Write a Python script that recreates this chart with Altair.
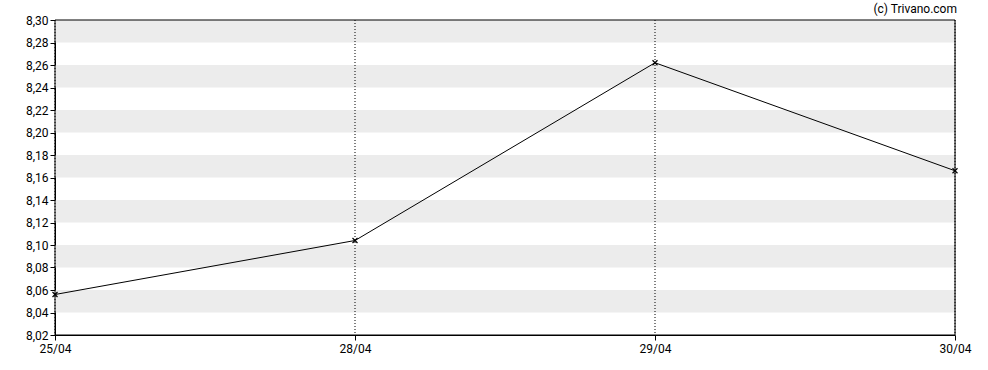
import altair as alt
import pandas as pd

dates = ["25/04", "28/04", "29/04", "30/04"]
prices = [8.056, 8.104, 8.262, 8.166]
y_ticks = [8.02, 8.04, 8.06, 8.08, 8.10, 8.12, 8.14, 8.16, 8.18, 8.20, 8.22, 8.24, 8.26, 8.28, 8.30]
band_lo = [8.04, 8.08, 8.12, 8.16, 8.20, 8.24, 8.28]
band_hi = [8.06, 8.10, 8.14, 8.18, 8.22, 8.26, 8.30]
credit = "(c) Trivano.com"

df = pd.DataFrame({"date": dates, "price": prices})
bands = pd.DataFrame({"lo": band_lo, "hi": band_hi})

FONT = "Roboto"
FS = 12
yscale = alt.Scale(domain=[8.02, 8.30], nice=False, zero=False)
xscale = alt.Scale(type="point", padding=0)

yaxis = alt.Axis(title=None, values=y_ticks, grid=False,
                 labelExpr="replace(format(datum.value, '.2f'), '.', ',')",
                 domainColor="#000000", tickColor="#000000", tickSize=5,
                 labelFont=FONT, labelFontSize=FS, labelColor="#000000",
                 labelPadding=2)
xaxis = alt.Axis(title=None, labelAngle=0, grid=False,
                 domainColor="#000000", tickColor="#000000", tickSize=5,
                 labelFont=FONT, labelFontSize=FS, labelColor="#000000",
                 labelPadding=3)

band_layer = alt.Chart(bands).mark_rect(color="#ececec").encode(
    x=alt.value(0), x2=alt.value(900),
    y=alt.Y("lo:Q", scale=yscale, axis=yaxis),
    y2="hi:Q",
)

vgrid = alt.Chart(df).mark_rule(color="#000000", strokeWidth=1, strokeDash=[1, 2]).encode(
    x=alt.X("date:O", scale=xscale, sort=None, axis=xaxis),
    y=alt.value(0), y2=alt.value(315),
)

line = alt.Chart(df).mark_line(color="#000000", strokeWidth=1).encode(
    x=alt.X("date:O", scale=xscale, sort=None, axis=xaxis),
    y=alt.Y("price:Q", scale=yscale, axis=yaxis),
)

pts = alt.Chart(df).mark_point(
    shape="M-1,-1L1,1M-1,1L1,-1", size=25, filled=False,
    color="#000000", strokeWidth=1.2, opacity=1
).encode(
    x=alt.X("date:O", scale=xscale, sort=None, axis=xaxis),
    y=alt.Y("price:Q", scale=yscale, axis=yaxis),
)

frame = alt.Chart(pd.DataFrame({"t": [credit]})).mark_rect(
    fill=None, fillOpacity=0, stroke="#000000", strokeWidth=1
).encode(x=alt.value(0), x2=alt.value(900), y=alt.value(0), y2=alt.value(315))

txt = alt.Chart(pd.DataFrame({"t": [credit]})).mark_text(
    align="right", baseline="middle", font=FONT, fontSize=FS, color="#000000"
).encode(x=alt.value(902), y=alt.value(-11), text="t:N")

chart = alt.layer(band_layer, vgrid, line, pts, frame, txt).properties(
    width=900, height=315,
    autosize=alt.AutoSizeParams(type="none"),
    padding={"left": 55, "top": 20, "right": 33, "bottom": 35},
).configure_view(stroke="#000000", strokeWidth=1).configure(background="#ffffff")

chart.save("out.html", embed_options={"renderer": "svg", "actions": False})
